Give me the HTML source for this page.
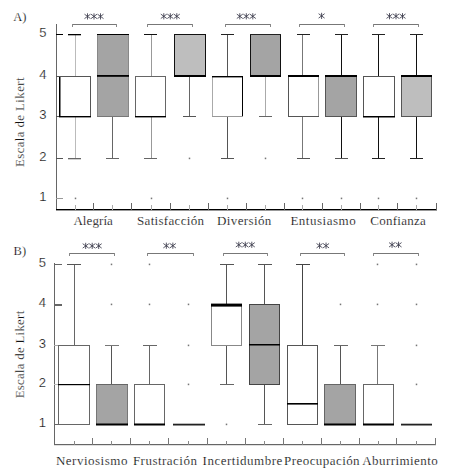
<!DOCTYPE html>
<html><head><meta charset="utf-8"><style>
html,body{margin:0;padding:0;background:#fff;}
svg{display:block;}
</style></head><body>
<svg width="449" height="475" viewBox="0 0 449 475">
<rect width="449" height="475" fill="#fff"/>
<rect x="56" y="24" width="1" height="186" fill="#666"/>
<rect x="56" y="209" width="381" height="1.4" fill="#000"/>
<rect x="75" y="205" width="1" height="5" fill="#aaa"/>
<rect x="93" y="203" width="1" height="7" fill="#666"/>
<rect x="112" y="205" width="1" height="5" fill="#aaa"/>
<rect x="131" y="203" width="1" height="7" fill="#666"/>
<rect x="151" y="205" width="1" height="5" fill="#aaa"/>
<rect x="170" y="203" width="1" height="7" fill="#666"/>
<rect x="189" y="205" width="1" height="5" fill="#aaa"/>
<rect x="208" y="203" width="1" height="7" fill="#666"/>
<rect x="227" y="205" width="1" height="5" fill="#aaa"/>
<rect x="246" y="203" width="1" height="7" fill="#666"/>
<rect x="265" y="205" width="1" height="5" fill="#aaa"/>
<rect x="284" y="203" width="1" height="7" fill="#666"/>
<rect x="302" y="205" width="1" height="5" fill="#aaa"/>
<rect x="322" y="203" width="1" height="7" fill="#666"/>
<rect x="341" y="205" width="1" height="5" fill="#aaa"/>
<rect x="360" y="203" width="1" height="7" fill="#666"/>
<rect x="378" y="205" width="1" height="5" fill="#aaa"/>
<rect x="397" y="203" width="1" height="7" fill="#666"/>
<rect x="416" y="205" width="1" height="5" fill="#aaa"/>
<rect x="436" y="203" width="1" height="7" fill="#666"/>
<rect x="56" y="34" width="7" height="1" fill="#000"/>
<rect x="56" y="76" width="7" height="1" fill="#555"/>
<rect x="56" y="116" width="7" height="1" fill="#555"/>
<rect x="56" y="158" width="7" height="1" fill="#555"/>
<rect x="56" y="198" width="7" height="1" fill="#999"/>
<rect x="75" y="34" width="1" height="43" fill="#bbb"/>
<rect x="68" y="34" width="13" height="1.3" fill="#000"/>
<rect x="75" y="116" width="1" height="43" fill="#bbb"/>
<rect x="68" y="158" width="13" height="1.3" fill="#666"/>
<rect x="59" y="76" width="32" height="41" fill="#ffffff"/>
<rect x="59" y="76" width="1.5" height="41" fill="#000"/>
<rect x="90" y="76" width="1" height="41" fill="#555"/>
<rect x="59" y="76" width="32" height="1" fill="#555"/>
<rect x="59" y="116" width="32" height="1" fill="#555"/>
<rect x="59" y="116" width="32" height="1.4" fill="#000"/>
<rect x="74.75" y="197.6" width="1.5" height="1.6" fill="#777"/>
<rect x="112" y="116" width="1" height="43" fill="#666"/>
<rect x="106" y="158" width="13" height="1" fill="#666"/>
<rect x="97" y="34" width="32" height="83" fill="#a4a4a4"/>
<rect x="97" y="34" width="1" height="83" fill="#888"/>
<rect x="128" y="34" width="1" height="83" fill="#888"/>
<rect x="97" y="34" width="32" height="1" fill="#000"/>
<rect x="97" y="116" width="32" height="1" fill="#777"/>
<rect x="97" y="75" width="32" height="1.8" fill="#000"/>
<rect x="151" y="34" width="1" height="43" fill="#999"/>
<rect x="144" y="34" width="13" height="1" fill="#111"/>
<rect x="151" y="116" width="1" height="43" fill="#999"/>
<rect x="144" y="158" width="13" height="1" fill="#666"/>
<rect x="135" y="76" width="31" height="41" fill="#ffffff"/>
<rect x="135" y="76" width="1" height="41" fill="#666"/>
<rect x="165" y="76" width="1" height="41" fill="#666"/>
<rect x="135" y="76" width="31" height="1" fill="#666"/>
<rect x="135" y="116" width="31" height="1" fill="#666"/>
<rect x="135" y="116" width="31" height="1.4" fill="#000"/>
<rect x="150.75" y="197.6" width="1.5" height="1.6" fill="#777"/>
<rect x="189" y="76" width="1" height="41" fill="#666"/>
<rect x="183" y="116" width="13" height="1" fill="#555"/>
<rect x="174" y="34" width="32" height="43" fill="#bebebe"/>
<rect x="174" y="34" width="1" height="43" fill="#111"/>
<rect x="205" y="34" width="1" height="43" fill="#111"/>
<rect x="174" y="34" width="32" height="1" fill="#111"/>
<rect x="174" y="76" width="32" height="1" fill="#111"/>
<rect x="174" y="75" width="32" height="2" fill="#000"/>
<rect x="188.75" y="157.6" width="1.5" height="1.6" fill="#777"/>
<rect x="227" y="34" width="1" height="43" fill="#555"/>
<rect x="221" y="34" width="13" height="1" fill="#222"/>
<rect x="227" y="116" width="1" height="43" fill="#555"/>
<rect x="221" y="158" width="13" height="1" fill="#555"/>
<rect x="212" y="76" width="31" height="41" fill="#ffffff"/>
<rect x="212" y="76" width="1" height="41" fill="#aaa"/>
<rect x="242" y="76" width="1" height="41" fill="#000"/>
<rect x="212" y="76" width="31" height="1" fill="#555"/>
<rect x="212" y="116" width="31" height="1" fill="#999"/>
<rect x="212" y="76" width="31" height="1.4" fill="#000"/>
<rect x="226.75" y="197.6" width="1.5" height="1.6" fill="#777"/>
<rect x="265" y="76" width="1" height="41" fill="#aaa"/>
<rect x="259" y="116" width="13" height="1" fill="#666"/>
<rect x="250" y="34" width="31" height="43" fill="#a4a4a4"/>
<rect x="250" y="34" width="1" height="43" fill="#111"/>
<rect x="280" y="34" width="1" height="43" fill="#111"/>
<rect x="250" y="34" width="31" height="1" fill="#222"/>
<rect x="250" y="76" width="31" height="1" fill="#111"/>
<rect x="250" y="75" width="31" height="2" fill="#000"/>
<rect x="264.75" y="157.6" width="1.5" height="1.6" fill="#777"/>
<rect x="302" y="34" width="1" height="43" fill="#777"/>
<rect x="297" y="34" width="13" height="1" fill="#222"/>
<rect x="302" y="116" width="1" height="43" fill="#777"/>
<rect x="297" y="158" width="13" height="1" fill="#555"/>
<rect x="288" y="76" width="31" height="41" fill="#ffffff"/>
<rect x="288" y="76" width="1" height="41" fill="#555"/>
<rect x="318" y="76" width="1" height="41" fill="#999"/>
<rect x="288" y="76" width="31" height="1" fill="#555"/>
<rect x="288" y="116" width="31" height="1" fill="#555"/>
<rect x="288" y="75" width="31" height="2" fill="#000"/>
<rect x="301.75" y="197.6" width="1.5" height="1.6" fill="#777"/>
<rect x="341" y="34" width="1" height="43" fill="#111"/>
<rect x="335" y="34" width="13" height="1" fill="#222"/>
<rect x="341" y="116" width="1" height="43" fill="#111"/>
<rect x="335" y="158" width="13" height="1" fill="#555"/>
<rect x="325" y="76" width="32" height="41" fill="#a4a4a4"/>
<rect x="325" y="76" width="1" height="41" fill="#555"/>
<rect x="356" y="76" width="1" height="41" fill="#555"/>
<rect x="325" y="76" width="32" height="1" fill="#555"/>
<rect x="325" y="116" width="32" height="1" fill="#555"/>
<rect x="325" y="75" width="32" height="2" fill="#000"/>
<rect x="340.75" y="197.6" width="1.5" height="1.6" fill="#777"/>
<rect x="378" y="34" width="1" height="43" fill="#111"/>
<rect x="372" y="34" width="13" height="1" fill="#222"/>
<rect x="378" y="116" width="1" height="43" fill="#111"/>
<rect x="372" y="158" width="13" height="1" fill="#222"/>
<rect x="363" y="76" width="32" height="41" fill="#ffffff"/>
<rect x="363" y="76" width="1" height="41" fill="#555"/>
<rect x="394" y="76" width="1" height="41" fill="#555"/>
<rect x="363" y="76" width="32" height="1" fill="#555"/>
<rect x="363" y="116" width="32" height="1" fill="#555"/>
<rect x="363" y="116" width="32" height="1.5" fill="#000"/>
<rect x="377.75" y="197.6" width="1.5" height="1.6" fill="#777"/>
<rect x="416" y="34" width="1" height="43" fill="#111"/>
<rect x="410" y="34" width="13" height="1" fill="#222"/>
<rect x="416" y="116" width="1" height="43" fill="#111"/>
<rect x="410" y="158" width="13" height="1" fill="#222"/>
<rect x="401" y="76" width="31" height="41" fill="#bebebe"/>
<rect x="401" y="76" width="1" height="41" fill="#555"/>
<rect x="431" y="76" width="1" height="41" fill="#555"/>
<rect x="401" y="76" width="31" height="1" fill="#555"/>
<rect x="401" y="116" width="31" height="1" fill="#555"/>
<rect x="401" y="75" width="31" height="2" fill="#000"/>
<rect x="415.75" y="197.6" width="1.5" height="1.6" fill="#777"/>
<rect x="54" y="263" width="1" height="182" fill="#666"/>
<rect x="54" y="444" width="382" height="1.2" fill="#666"/>
<rect x="74" y="441" width="1" height="4" fill="#888"/>
<rect x="92" y="438" width="1" height="7" fill="#777"/>
<rect x="111" y="441" width="1" height="4" fill="#888"/>
<rect x="130" y="438" width="1" height="7" fill="#777"/>
<rect x="149" y="441" width="1" height="4" fill="#888"/>
<rect x="168" y="438" width="1" height="7" fill="#777"/>
<rect x="188" y="441" width="1" height="4" fill="#888"/>
<rect x="207" y="438" width="1" height="7" fill="#777"/>
<rect x="226" y="441" width="1" height="4" fill="#888"/>
<rect x="245" y="438" width="1" height="7" fill="#777"/>
<rect x="264" y="441" width="1" height="4" fill="#888"/>
<rect x="283" y="438" width="1" height="7" fill="#777"/>
<rect x="302" y="441" width="1" height="4" fill="#888"/>
<rect x="321" y="438" width="1" height="7" fill="#777"/>
<rect x="340" y="441" width="1" height="4" fill="#888"/>
<rect x="359" y="438" width="1" height="7" fill="#777"/>
<rect x="378" y="441" width="1" height="4" fill="#888"/>
<rect x="396" y="438" width="1" height="7" fill="#777"/>
<rect x="416" y="441" width="1" height="4" fill="#888"/>
<rect x="435" y="438" width="1" height="7" fill="#777"/>
<rect x="54" y="264" width="8" height="1" fill="#666"/>
<rect x="54" y="304" width="8" height="2" fill="#666"/>
<rect x="54" y="345" width="8" height="1" fill="#aaa"/>
<rect x="54" y="384" width="8" height="1" fill="#bbb"/>
<rect x="54" y="424" width="8" height="1" fill="#666"/>
<rect x="74" y="264" width="1" height="82" fill="#666"/>
<rect x="67" y="264" width="14" height="1" fill="#555"/>
<rect x="58" y="345" width="32" height="80" fill="#ffffff"/>
<rect x="58" y="345" width="1" height="80" fill="#666"/>
<rect x="89" y="345" width="1" height="80" fill="#666"/>
<rect x="58" y="345" width="32" height="1" fill="#666"/>
<rect x="58" y="424" width="32" height="1" fill="#666"/>
<rect x="58" y="384" width="32" height="1.2" fill="#000"/>
<rect x="111" y="345" width="1" height="40" fill="#555"/>
<rect x="105" y="345" width="14" height="1" fill="#777"/>
<rect x="96" y="384" width="32" height="41" fill="#a4a4a4"/>
<rect x="96" y="384" width="1" height="41" fill="#777"/>
<rect x="127" y="384" width="1" height="41" fill="#777"/>
<rect x="96" y="384" width="32" height="1" fill="#666"/>
<rect x="96" y="424" width="32" height="1" fill="#777"/>
<rect x="96" y="423.5" width="32" height="2" fill="#000"/>
<rect x="110.75" y="303.6" width="1.5" height="1.6" fill="#777"/>
<rect x="110.75" y="263.6" width="1.5" height="1.6" fill="#777"/>
<rect x="149" y="345" width="1" height="40" fill="#666"/>
<rect x="143" y="345" width="14" height="1" fill="#666"/>
<rect x="134" y="384" width="31" height="41" fill="#ffffff"/>
<rect x="134" y="384" width="1" height="41" fill="#666"/>
<rect x="164" y="384" width="1" height="41" fill="#666"/>
<rect x="134" y="384" width="31" height="1" fill="#666"/>
<rect x="134" y="424" width="31" height="1" fill="#666"/>
<rect x="134" y="423.5" width="31" height="2" fill="#000"/>
<rect x="148.75" y="303.6" width="1.5" height="1.6" fill="#777"/>
<rect x="148.75" y="263.6" width="1.5" height="1.6" fill="#777"/>
<rect x="173" y="423.7" width="32" height="1.8" fill="#222"/>
<rect x="187.75" y="383.6" width="1.5" height="1.6" fill="#777"/>
<rect x="187.75" y="344.6" width="1.5" height="1.6" fill="#777"/>
<rect x="187.75" y="303.6" width="1.5" height="1.6" fill="#777"/>
<rect x="226" y="264" width="1" height="41" fill="#555"/>
<rect x="220" y="264" width="14" height="1" fill="#555"/>
<rect x="226" y="345" width="1" height="40" fill="#555"/>
<rect x="220" y="384" width="14" height="1" fill="#666"/>
<rect x="211" y="304" width="31" height="42" fill="#ffffff"/>
<rect x="211" y="304" width="1" height="42" fill="#888"/>
<rect x="241" y="304" width="1" height="42" fill="#888"/>
<rect x="211" y="304" width="31" height="1" fill="#888"/>
<rect x="211" y="345" width="31" height="1" fill="#888"/>
<rect x="211" y="303.6" width="31" height="3" fill="#000"/>
<rect x="225.75" y="423.6" width="1.5" height="1.6" fill="#777"/>
<rect x="264" y="264" width="1" height="41" fill="#555"/>
<rect x="258" y="264" width="14" height="1" fill="#555"/>
<rect x="264" y="384" width="1" height="41" fill="#555"/>
<rect x="258" y="424" width="14" height="1" fill="#666"/>
<rect x="249" y="304" width="31" height="81" fill="#a4a4a4"/>
<rect x="249" y="304" width="1" height="81" fill="#444"/>
<rect x="279" y="304" width="1" height="81" fill="#444"/>
<rect x="249" y="304" width="31" height="1" fill="#444"/>
<rect x="249" y="384" width="31" height="1" fill="#444"/>
<rect x="249" y="344" width="31" height="1.5" fill="#000"/>
<rect x="302" y="264" width="1" height="82" fill="#444"/>
<rect x="296" y="264" width="14" height="1" fill="#444"/>
<rect x="287" y="345" width="31" height="80" fill="#ffffff"/>
<rect x="287" y="345" width="1" height="80" fill="#555"/>
<rect x="317" y="345" width="1" height="80" fill="#555"/>
<rect x="287" y="345" width="31" height="1" fill="#555"/>
<rect x="287" y="424" width="31" height="1" fill="#555"/>
<rect x="287" y="403" width="31" height="1.6" fill="#000"/>
<rect x="340" y="345" width="1" height="40" fill="#555"/>
<rect x="334" y="345" width="14" height="1" fill="#666"/>
<rect x="324" y="384" width="32" height="41" fill="#a4a4a4"/>
<rect x="324" y="384" width="1" height="41" fill="#666"/>
<rect x="355" y="384" width="1" height="41" fill="#666"/>
<rect x="324" y="384" width="32" height="1" fill="#666"/>
<rect x="324" y="424" width="32" height="1" fill="#666"/>
<rect x="324" y="423.5" width="32" height="2" fill="#000"/>
<rect x="339.75" y="303.6" width="1.5" height="1.6" fill="#777"/>
<rect x="377" y="345" width="1" height="40" fill="#777"/>
<rect x="371" y="345" width="14" height="1" fill="#777"/>
<rect x="363" y="384" width="31" height="41" fill="#ffffff"/>
<rect x="363" y="384" width="1" height="41" fill="#666"/>
<rect x="393" y="384" width="1" height="41" fill="#666"/>
<rect x="363" y="384" width="31" height="1" fill="#666"/>
<rect x="363" y="424" width="31" height="1" fill="#666"/>
<rect x="363" y="423.5" width="31" height="2" fill="#000"/>
<rect x="376.75" y="303.6" width="1.5" height="1.6" fill="#777"/>
<rect x="376.75" y="263.6" width="1.5" height="1.6" fill="#777"/>
<rect x="401" y="423.7" width="31" height="1.8" fill="#222"/>
<rect x="415.75" y="383.6" width="1.5" height="1.6" fill="#777"/>
<rect x="415.75" y="344.6" width="1.5" height="1.6" fill="#777"/>
<rect x="415.75" y="303.6" width="1.5" height="1.6" fill="#777"/>
<rect x="415.75" y="263.6" width="1.5" height="1.6" fill="#777"/>
<rect x="72" y="24" width="45" height="1" fill="#777"/>
<rect x="72" y="24" width="1" height="3" fill="#888"/>
<rect x="116" y="24" width="1" height="3" fill="#888"/>
<rect x="147" y="24" width="46" height="1" fill="#777"/>
<rect x="147" y="24" width="1" height="3" fill="#888"/>
<rect x="192" y="24" width="1" height="3" fill="#888"/>
<rect x="225" y="24" width="46" height="1" fill="#777"/>
<rect x="225" y="24" width="1" height="3" fill="#888"/>
<rect x="270" y="24" width="1" height="3" fill="#888"/>
<rect x="299" y="24" width="46" height="1" fill="#777"/>
<rect x="299" y="24" width="1" height="3" fill="#888"/>
<rect x="344" y="24" width="1" height="3" fill="#888"/>
<rect x="373" y="24" width="46" height="1" fill="#777"/>
<rect x="373" y="24" width="1" height="3" fill="#888"/>
<rect x="418" y="24" width="1" height="3" fill="#888"/>
<rect x="69" y="253" width="46" height="1" fill="#777"/>
<rect x="69" y="253" width="1" height="3" fill="#888"/>
<rect x="114" y="253" width="1" height="3" fill="#888"/>
<rect x="147" y="253" width="47" height="1" fill="#777"/>
<rect x="147" y="253" width="1" height="3" fill="#888"/>
<rect x="193" y="253" width="1" height="3" fill="#888"/>
<rect x="223" y="253" width="45" height="1" fill="#777"/>
<rect x="223" y="253" width="1" height="3" fill="#888"/>
<rect x="267" y="253" width="1" height="3" fill="#888"/>
<rect x="300" y="253" width="45" height="1" fill="#777"/>
<rect x="300" y="253" width="1" height="3" fill="#888"/>
<rect x="344" y="253" width="1" height="3" fill="#888"/>
<rect x="373" y="253" width="46" height="1" fill="#777"/>
<rect x="373" y="253" width="1" height="3" fill="#888"/>
<rect x="418" y="253" width="1" height="3" fill="#888"/>
<path d="M87.50 13.30 V19.50 M84.50 14.20 L90.50 18.60 M84.50 18.60 L90.50 14.20" stroke="#3a3a4a" stroke-width="0.85" fill="none"/>
<path d="M94.00 13.30 V19.50 M91.00 14.20 L97.00 18.60 M91.00 18.60 L97.00 14.20" stroke="#3a3a4a" stroke-width="0.85" fill="none"/>
<path d="M100.50 13.30 V19.50 M97.50 14.20 L103.50 18.60 M97.50 18.60 L103.50 14.20" stroke="#3a3a4a" stroke-width="0.85" fill="none"/>
<path d="M163.80 13.20 V19.40 M160.80 14.10 L166.80 18.50 M160.80 18.50 L166.80 14.10" stroke="#3a3a4a" stroke-width="0.85" fill="none"/>
<path d="M170.30 13.20 V19.40 M167.30 14.10 L173.30 18.50 M167.30 18.50 L173.30 14.10" stroke="#3a3a4a" stroke-width="0.85" fill="none"/>
<path d="M176.80 13.20 V19.40 M173.80 14.10 L179.80 18.50 M173.80 18.50 L179.80 14.10" stroke="#3a3a4a" stroke-width="0.85" fill="none"/>
<path d="M239.80 13.20 V19.40 M236.80 14.10 L242.80 18.50 M236.80 18.50 L242.80 14.10" stroke="#3a3a4a" stroke-width="0.85" fill="none"/>
<path d="M246.30 13.20 V19.40 M243.30 14.10 L249.30 18.50 M243.30 18.50 L249.30 14.10" stroke="#3a3a4a" stroke-width="0.85" fill="none"/>
<path d="M252.80 13.20 V19.40 M249.80 14.10 L255.80 18.50 M249.80 18.50 L255.80 14.10" stroke="#3a3a4a" stroke-width="0.85" fill="none"/>
<path d="M321.60 12.80 V19.00 M318.60 13.70 L324.60 18.10 M318.60 18.10 L324.60 13.70" stroke="#3a3a4a" stroke-width="0.85" fill="none"/>
<path d="M389.50 13.10 V19.30 M386.50 14.00 L392.50 18.40 M386.50 18.40 L392.50 14.00" stroke="#3a3a4a" stroke-width="0.85" fill="none"/>
<path d="M396.00 13.10 V19.30 M393.00 14.00 L399.00 18.40 M393.00 18.40 L399.00 14.00" stroke="#3a3a4a" stroke-width="0.85" fill="none"/>
<path d="M402.50 13.10 V19.30 M399.50 14.00 L405.50 18.40 M399.50 18.40 L405.50 14.00" stroke="#3a3a4a" stroke-width="0.85" fill="none"/>
<path d="M85.70 242.80 V249.00 M82.70 243.70 L88.70 248.10 M82.70 248.10 L88.70 243.70" stroke="#3a3a4a" stroke-width="0.85" fill="none"/>
<path d="M92.20 242.80 V249.00 M89.20 243.70 L95.20 248.10 M89.20 248.10 L95.20 243.70" stroke="#3a3a4a" stroke-width="0.85" fill="none"/>
<path d="M98.70 242.80 V249.00 M95.70 243.70 L101.70 248.10 M95.70 248.10 L101.70 243.70" stroke="#3a3a4a" stroke-width="0.85" fill="none"/>
<path d="M166.35 242.60 V248.80 M163.35 243.50 L169.35 247.90 M163.35 247.90 L169.35 243.50" stroke="#3a3a4a" stroke-width="0.85" fill="none"/>
<path d="M172.85 242.60 V248.80 M169.85 243.50 L175.85 247.90 M169.85 247.90 L175.85 243.50" stroke="#3a3a4a" stroke-width="0.85" fill="none"/>
<path d="M238.80 241.70 V247.90 M235.80 242.60 L241.80 247.00 M235.80 247.00 L241.80 242.60" stroke="#3a3a4a" stroke-width="0.85" fill="none"/>
<path d="M245.30 241.70 V247.90 M242.30 242.60 L248.30 247.00 M242.30 247.00 L248.30 242.60" stroke="#3a3a4a" stroke-width="0.85" fill="none"/>
<path d="M251.80 241.70 V247.90 M248.80 242.60 L254.80 247.00 M248.80 247.00 L254.80 242.60" stroke="#3a3a4a" stroke-width="0.85" fill="none"/>
<path d="M319.55 242.60 V248.80 M316.55 243.50 L322.55 247.90 M316.55 247.90 L322.55 243.50" stroke="#3a3a4a" stroke-width="0.85" fill="none"/>
<path d="M326.05 242.60 V248.80 M323.05 243.50 L329.05 247.90 M323.05 247.90 L329.05 243.50" stroke="#3a3a4a" stroke-width="0.85" fill="none"/>
<path d="M392.05 241.70 V247.90 M389.05 242.60 L395.05 247.00 M389.05 247.00 L395.05 242.60" stroke="#3a3a4a" stroke-width="0.85" fill="none"/>
<path d="M398.55 241.70 V247.90 M395.55 242.60 L401.55 247.00 M395.55 247.00 L401.55 242.60" stroke="#3a3a4a" stroke-width="0.85" fill="none"/>
<text x="13.2" y="21.2" font-family="Liberation Serif" font-size="12.5" fill="#000" text-anchor="start" stroke="#fff" stroke-width="0.2">A)</text>
<text x="13.6" y="255.4" font-family="Liberation Serif" font-size="12.5" fill="#000" text-anchor="start" stroke="#fff" stroke-width="0.2">B)</text>
<text x="46.6" y="200.9" font-family="Liberation Sans" font-size="13" fill="#111" text-anchor="end" stroke="#fff" stroke-width="0.2">1</text>
<text x="46.0" y="426.9" font-family="Liberation Sans" font-size="13" fill="#111" text-anchor="end" stroke="#fff" stroke-width="0.2">1</text>
<text x="46.6" y="160.9" font-family="Liberation Sans" font-size="13" fill="#111" text-anchor="end" stroke="#fff" stroke-width="0.2">2</text>
<text x="46.0" y="386.9" font-family="Liberation Sans" font-size="13" fill="#111" text-anchor="end" stroke="#fff" stroke-width="0.2">2</text>
<text x="46.6" y="118.9" font-family="Liberation Sans" font-size="13" fill="#111" text-anchor="end" stroke="#fff" stroke-width="0.2">3</text>
<text x="46.0" y="347.9" font-family="Liberation Sans" font-size="13" fill="#111" text-anchor="end" stroke="#fff" stroke-width="0.2">3</text>
<text x="46.6" y="78.9" font-family="Liberation Sans" font-size="13" fill="#111" text-anchor="end" stroke="#fff" stroke-width="0.2">4</text>
<text x="46.0" y="306.9" font-family="Liberation Sans" font-size="13" fill="#111" text-anchor="end" stroke="#fff" stroke-width="0.2">4</text>
<text x="46.6" y="36.9" font-family="Liberation Sans" font-size="13" fill="#111" text-anchor="end" stroke="#fff" stroke-width="0.2">5</text>
<text x="46.0" y="266.9" font-family="Liberation Sans" font-size="13" fill="#111" text-anchor="end" stroke="#fff" stroke-width="0.2">5</text>
<text transform="translate(23.8,167.0) rotate(-90)" font-family="Liberation Serif" font-size="12.8" fill="#111" stroke="#fff" stroke-width="0.2" textLength="89.5" lengthAdjust="spacing">Escala de Likert</text>
<text transform="translate(23.8,398.3) rotate(-90)" font-family="Liberation Serif" font-size="12.8" fill="#111" stroke="#fff" stroke-width="0.2" textLength="87.5" lengthAdjust="spacing">Escala de Likert</text>
<text x="73.4" y="224.7" font-family="Liberation Serif" font-size="13" fill="#000" text-anchor="start" textLength="39.5" lengthAdjust="spacing" stroke="#fff" stroke-width="0.2">Alegría</text>
<text x="137.0" y="224.7" font-family="Liberation Serif" font-size="13" fill="#000" text-anchor="start" textLength="67.0" lengthAdjust="spacing" stroke="#fff" stroke-width="0.2">Satisfacción</text>
<text x="217.0" y="224.7" font-family="Liberation Serif" font-size="13" fill="#000" text-anchor="start" textLength="54.3" lengthAdjust="spacing" stroke="#fff" stroke-width="0.2">Diversión</text>
<text x="290.4" y="224.7" font-family="Liberation Serif" font-size="13" fill="#000" text-anchor="start" textLength="65.3" lengthAdjust="spacing" stroke="#fff" stroke-width="0.2">Entusiasmo</text>
<text x="370.3" y="224.7" font-family="Liberation Serif" font-size="13" fill="#000" text-anchor="start" textLength="55.6" lengthAdjust="spacing" stroke="#fff" stroke-width="0.2">Confianza</text>
<text x="55.9" y="464.6" font-family="Liberation Serif" font-size="13" fill="#000" text-anchor="start" textLength="71.5" lengthAdjust="spacing" stroke="#fff" stroke-width="0.2">Nerviosismo</text>
<text x="132.9" y="464.6" font-family="Liberation Serif" font-size="13" fill="#000" text-anchor="start" textLength="64.0" lengthAdjust="spacing" stroke="#fff" stroke-width="0.2">Frustración</text>
<text x="202.6" y="464.6" font-family="Liberation Serif" font-size="13" fill="#000" text-anchor="start" textLength="79.7" lengthAdjust="spacing" stroke="#fff" stroke-width="0.2">Incertidumbre</text>
<text x="284.1" y="464.6" font-family="Liberation Serif" font-size="13" fill="#000" text-anchor="start" textLength="75.5" lengthAdjust="spacing" stroke="#fff" stroke-width="0.2">Preocupación</text>
<text x="362.3" y="464.6" font-family="Liberation Serif" font-size="13" fill="#000" text-anchor="start" textLength="75.4" lengthAdjust="spacing" stroke="#fff" stroke-width="0.2">Aburrimiento</text>
</svg>
</body></html>
